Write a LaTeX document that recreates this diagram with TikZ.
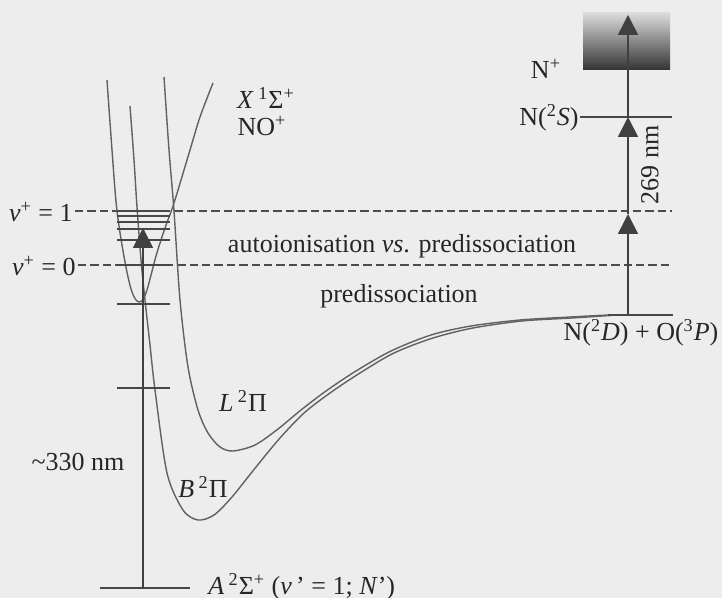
\documentclass[tikz,border=0pt]{standalone}
\usepackage{fontspec}
\setmainfont{Liberation Serif}
\usetikzlibrary{arrows.meta}

\begin{document}
\begin{tikzpicture}[x=0.5pt,y=-0.5pt,
    every node/.style={font=\fontsize{13}{15}\selectfont,text=black!85,inner sep=0pt},
    pot/.style={black!62,line width=0.7pt},
    lev/.style={black!72,line width=0.8pt},
    dline/.style={black!70,line width=0.75pt,dash pattern=on 4.2pt off 2pt},
    upar/.style={black!75,line width=0.8pt,-{Triangle[length=10pt,width=10pt]}},
  ]
  \fill[black!7] (0,0) rectangle (722,598);
  \useasboundingbox (0,0) rectangle (722,598);

  % ionisation continuum
  \shade[top color=black!14,bottom color=black!80] (583,13) rectangle (670,70);

  % dashed v+ levels
  \node[anchor=east] (vone) at (73,212) {\textit{v}\textsuperscript{+} = 1};
  \node[anchor=east] (vzero) at (76,266) {\textit{v}\textsuperscript{+} = 0};
  \draw[dline] (vone.east) ++(2,-1) -- (672,211);
  \draw[dline] (vzero.east) ++(2,-1) -- (672,265);

  % potential curves
  \draw[pot] plot[smooth,tension=0.55] coordinates {(107,80) (112,150) (117,211)
    (125,262) (132,292) (139,302) (146,293) (156,256) (165,228) (174,203)
    (190,150) (200,117) (213,83)};
  \draw[pot] plot[smooth,tension=0.5] coordinates {(130,106) (134,160) (137,207)
    (141,260) (145,300) (150,345) (155,390) (167,473) (183,510) (198,520)
    (214,515) (232,497) (256,467) (280,438) (304,413) (330,393) (360,373)
    (394,353) (433,338) (473,328) (522,321) (572,318) (610,315.5)};
  \draw[pot] plot[smooth,tension=0.5] coordinates {(164,77) (169,150) (174,211)
    (180,300) (188,367) (198,410) (208,433) (220,447) (233,451) (255,445)
    (278,429) (301,410) (326,391) (356,371) (391,351) (431,335) (471,326)
    (520,320) (570,317) (608,315)};

  % vibrational levels and ticks
  \draw[lev,line width=1.4pt] (117,211) -- (170,211);
  \foreach \yl in {216,222,229,240} {
    \draw[lev] (117,\yl) -- (170,\yl);
  }
  \draw[lev,line width=1.1pt] (117,265) -- (170,265);
  \foreach \yl in {304,388} {
    \draw[lev] (117,\yl) -- (170,\yl);
  }
  \draw[lev] (100,588) -- (190,588);

  % right-hand levels
  \draw[lev] (608,315) -- (673,315);
  \draw[lev] (580,117) -- (672,117);

  % excitation arrows
  \coordinate (Abot) at (143,588);
  \coordinate (Xtop) at (143,228);
  \coordinate (asym) at (628,315);
  \coordinate (vonR) at (628,214);
  \coordinate (twoS) at (628,117);
  \coordinate (ion) at (628,15);
  \draw[upar] (Abot) -- (Xtop);
  \draw[upar] (asym) -- (vonR);
  \draw[upar] (vonR) -- (twoS);
  \draw[upar] (twoS) -- (ion);

  % labels
  \node (Xlab) at (266,98) {\textit{X}\,\textsuperscript{1}Σ\textsuperscript{+}};
  \node (NOlab) at (262,126) {NO\textsuperscript{+}};
  \node (autolab) at (402,246) {autoionisation \textit{vs}. predissociation};
  \node (predlab) at (399,296) {predissociation};
  \node (Llab) at (243,401) {\textit{L}\,\textsuperscript{2}Π};
  \node (Blab) at (203,487) {\textit{B}\,\textsuperscript{2}Π};
  \node (nmA) at (78,462) {\textasciitilde 330 nm};
  \node[anchor=west] (Alab) at (208,587) {\textit{A}\,\textsuperscript{2}Σ\textsuperscript{+} (\textit{v}\,’ = 1; \textit{N}’)};
  \node (Nplus) at (546,69) {N\textsuperscript{+}};
  \node[anchor=east] (NS) at (579,118) {N(\textsuperscript{2}\textit{S})};
  \node[rotate=90] (nmR) at (650,165) {269 nm};
  \node (asylab) at (641,333) {N(\textsuperscript{2}\textit{D}) + O(\textsuperscript{3}\textit{P})};
\end{tikzpicture}
\end{document}
